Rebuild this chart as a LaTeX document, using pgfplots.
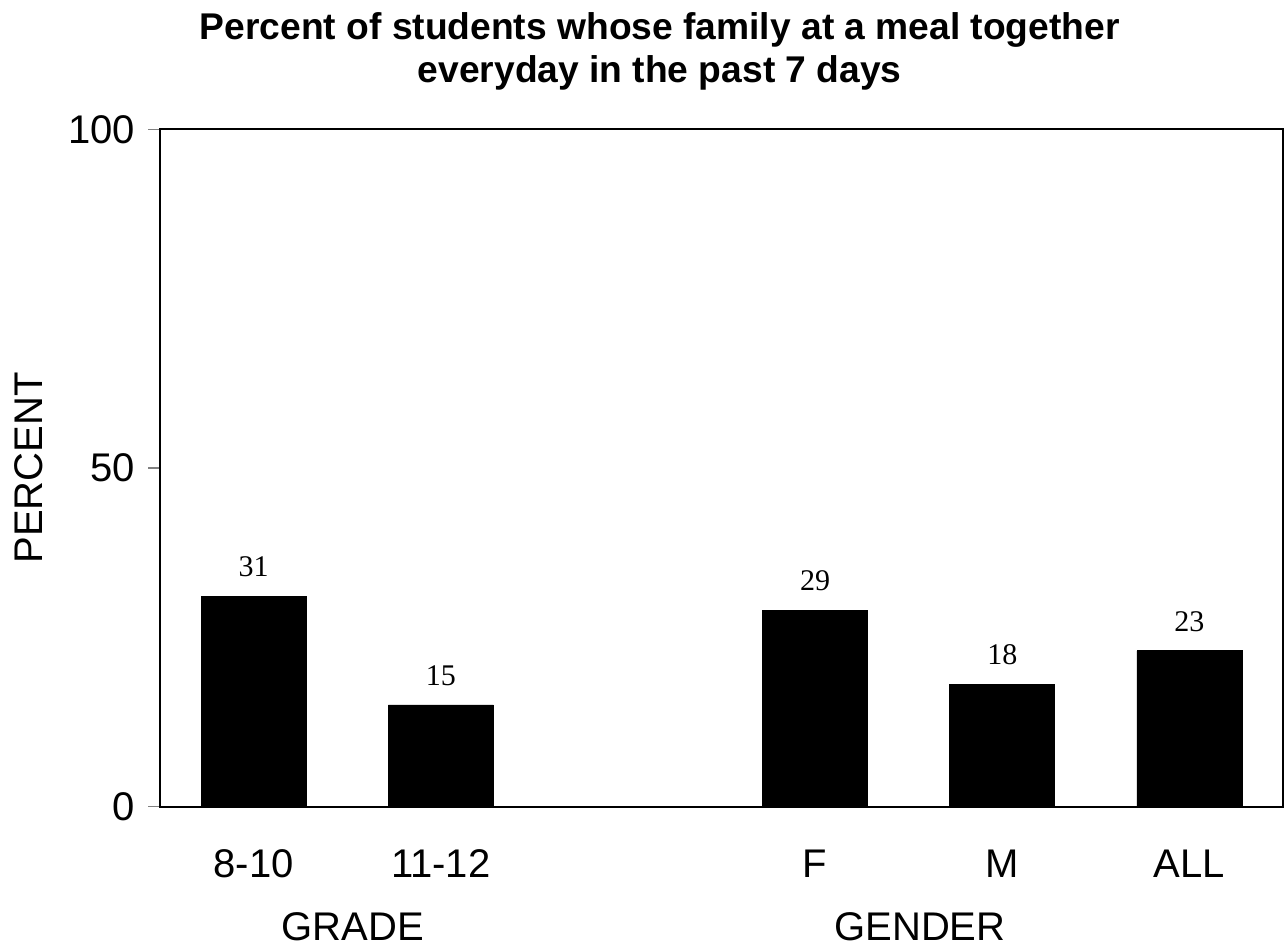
\documentclass[border=0pt]{standalone}
\usepackage{pgfplots}
\pgfplotsset{compat=1.18}
\usepackage{fontspec}
\setmainfont{Liberation Sans}
\newfontfamily\serifnum{Liberation Serif}
\begin{document}
\begin{tikzpicture}
\begin{axis}[
  scale only axis,
  width=561.5pt, height=338.5pt,
  xmin=-0.5, xmax=5.5,
  ymin=0, ymax=100,
  ytick={0,50,100},
  xtick={0,1,3,4,5},
  xticklabels={8-10,11-12,F,M,ALL},
  /pgf/number format/assume math mode=true,
  tick label style={font=\fontsize{20}{24}\selectfont},
  x tick label style={yshift=-12pt},
  y tick label style={xshift=-3pt},
  major x tick style={draw=none},
  major y tick style={gray, line width=0.6pt},
  tick align=outside,
  major tick length=6pt,
  ytick pos=left,
  axis line style={line width=1pt},
  clip=false,
  ylabel={PERCENT},
  ylabel style={font=\fontsize{20}{24}\selectfont, yshift=6pt},
  ybar, bar width=52.5pt, bar shift=0pt,
  nodes near coords,
  nodes near coords style={font=\serifnum\fontsize{15}{18}\selectfont, anchor=south, inner sep=0pt, yshift=9.5pt, text=black},
]
\addplot[fill=black, draw=black] coordinates {(0,31) (1,15) (3,29) (4,18) (5,23)};
\node[anchor=north, inner sep=0pt, font=\fontsize{20}{24}\selectfont] at (axis cs:0.53,0) [yshift=-53pt] {GRADE};
\node[anchor=north, inner sep=0pt, font=\fontsize{20}{24}\selectfont] at (axis cs:3.56,0) [yshift=-53pt] {GENDER};
\node[align=center, font=\bfseries\fontsize{18.6}{21.5}\selectfont, inner sep=0pt] at (rel axis cs:0.445,1) [yshift=39pt] {Percent of students whose family at a meal together\\everyday in the past 7 days};
\end{axis}
\path ([xshift=-80pt,yshift=-70.75pt]current axis.south west) rectangle ([xshift=1.5pt,yshift=64.75pt]current axis.north east);
\end{tikzpicture}
\end{document}
